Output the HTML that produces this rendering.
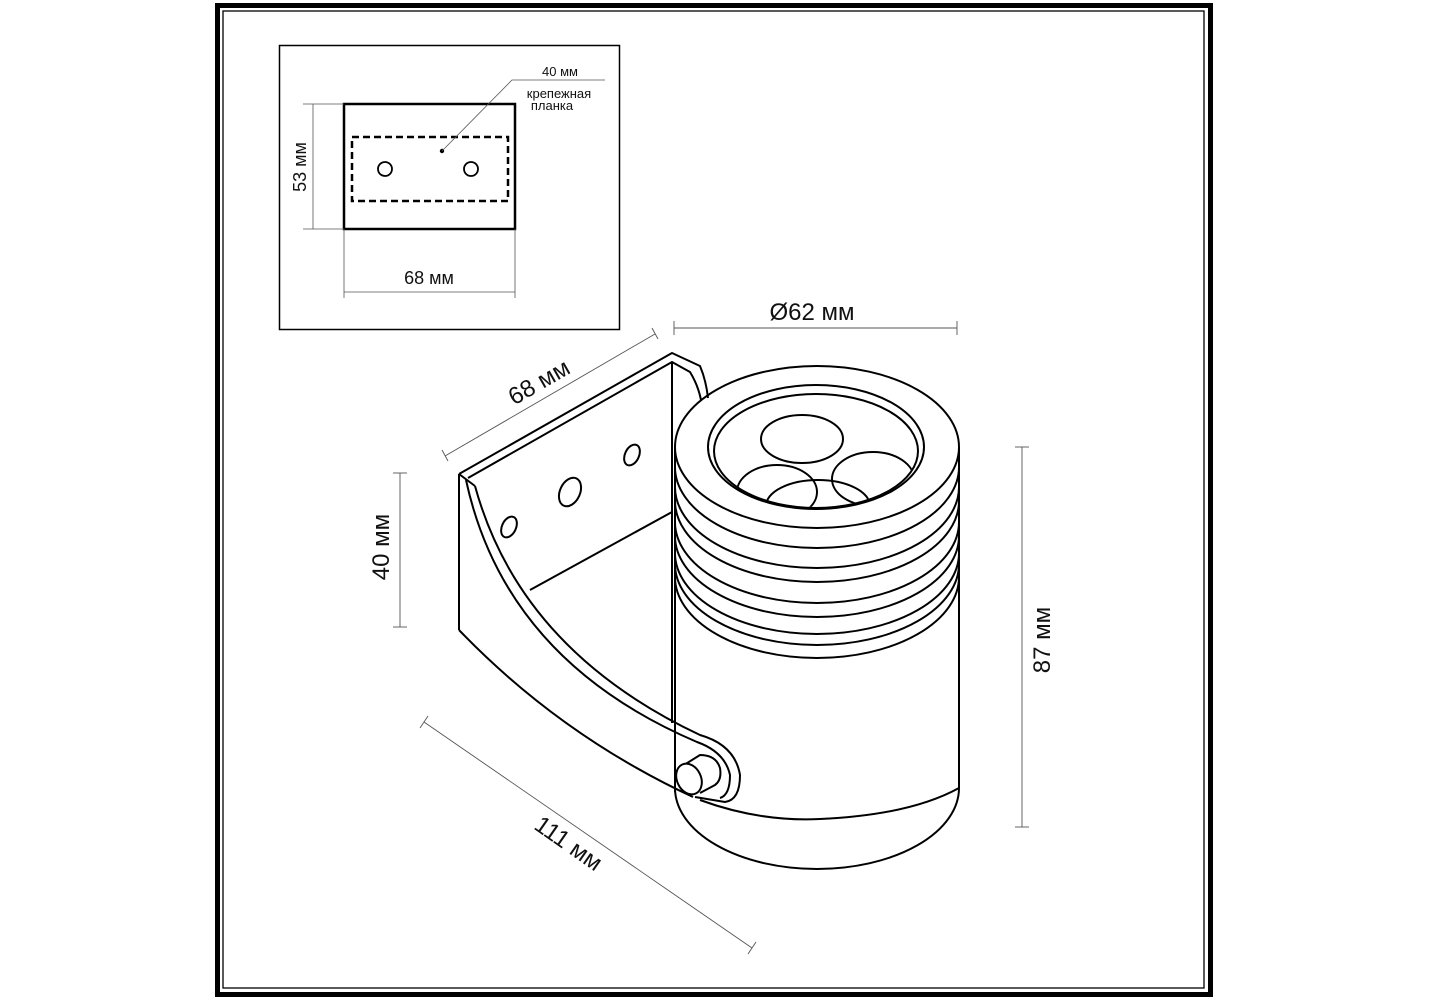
<!DOCTYPE html>
<html><head><meta charset="utf-8"><style>
html,body{margin:0;padding:0;background:#fff;}
svg{display:block;}
text{font-family:"Liberation Sans",sans-serif;fill:#111;}
</style></head><body>
<svg width="1429" height="1000" viewBox="0 0 1429 1000" xmlns="http://www.w3.org/2000/svg">
<rect width="1429" height="1000" fill="#fff"/>
<rect x="217.5" y="5.5" width="993" height="989" fill="none" stroke="#000" stroke-width="5"/>
<rect x="223" y="11" width="981" height="977" fill="none" stroke="#000" stroke-width="1.3"/>
<!-- inset -->
<rect x="279.5" y="45.5" width="340" height="284" fill="none" stroke="#000" stroke-width="1.5"/>
<rect x="344" y="104" width="171" height="125" fill="none" stroke="#000" stroke-width="2.5"/>
<rect x="352" y="137" width="156" height="64" fill="none" stroke="#000" stroke-width="2.5" stroke-dasharray="7,4"/>
<circle cx="385" cy="169" r="7" fill="none" stroke="#000" stroke-width="1.8"/>
<circle cx="471" cy="169" r="7" fill="none" stroke="#000" stroke-width="1.8"/>
<circle cx="442" cy="151" r="2.2" fill="#000"/>
<polyline points="442,151 512,80 605,80" fill="none" stroke="#555" stroke-width="0.8"/>
<text x="560" y="76" font-size="13" text-anchor="middle">40 мм</text>
<text x="559" y="98" font-size="13" text-anchor="middle">крепежная</text>
<text x="552" y="110" font-size="13" text-anchor="middle">планка</text>
<g stroke="#555" stroke-width="0.8" fill="none">
<line x1="313" y1="104" x2="313" y2="229"/>
<line x1="303" y1="104" x2="344" y2="104"/>
<line x1="303" y1="229" x2="344" y2="229"/>
<line x1="344" y1="229" x2="344" y2="298"/>
<line x1="515" y1="229" x2="515" y2="298"/>
<line x1="344" y1="292" x2="515" y2="292"/>
</g>
<text font-size="18" text-anchor="middle" transform="translate(306,167) rotate(-90)">53 мм</text>
<text x="429" y="284" font-size="18" text-anchor="middle">68 мм</text>

<g stroke="#555" stroke-width="0.9" fill="none">
<line x1="445" y1="456" x2="655" y2="334"/>
<line x1="442" y1="450" x2="448" y2="461"/>
<line x1="652" y1="328" x2="658" y2="339"/>
<line x1="674" y1="328" x2="957" y2="328"/>
<line x1="674" y1="321" x2="674" y2="335"/>
<line x1="957" y1="321" x2="957" y2="335"/>
<line x1="400" y1="473" x2="400" y2="627"/>
<line x1="393" y1="473" x2="407" y2="473"/>
<line x1="393" y1="627" x2="407" y2="627"/>
<line x1="1022" y1="447" x2="1022" y2="827"/>
<line x1="1015" y1="447" x2="1029" y2="447"/>
<line x1="1015" y1="827" x2="1029" y2="827"/>
<line x1="424" y1="722" x2="752" y2="948"/>
<line x1="420" y1="728" x2="428" y2="716"/>
<line x1="748" y1="954" x2="756" y2="942"/>
</g>
<text font-size="24" text-anchor="middle" transform="translate(543,389) rotate(-30)">68 мм</text>
<text x="812" y="320" font-size="24" text-anchor="middle">Ø62 мм</text>
<text font-size="24" text-anchor="middle" transform="translate(389,547) rotate(-90)">40 мм</text>
<text font-size="24" text-anchor="middle" transform="translate(1050,640) rotate(-90)">87 мм</text>
<text font-size="24" text-anchor="middle" transform="translate(564,850) rotate(35)">111 мм</text>

<!-- cylinder -->
<g stroke="#000" stroke-width="2" fill="none">
<line x1="675" y1="447" x2="675" y2="792"/>
<line x1="959" y1="447" x2="959" y2="788"/>
<path d="M675,788 A142,81 0 0 0 959,788"/>
<path d="M700,800 Q760,822 820,819 Q910,815 959,788"/>
<path d="M675,467 A142,81 0 0 0 959,467"/>
<path d="M675,487 A142,81 0 0 0 959,487"/>
<path d="M675,501 A142,81 0 0 0 959,501"/>
<path d="M675,522 A142,81 0 0 0 959,522"/>
<path d="M675,536 A142,81 0 0 0 959,536"/>
<path d="M675,553 A142,81 0 0 0 959,553"/>
<path d="M675,564 A142,81 0 0 0 959,564"/>
<path d="M675,577 A142,81 0 0 0 959,577"/>
<ellipse cx="817" cy="447" rx="142" ry="81" fill="#fff"/>
<ellipse cx="816" cy="447" rx="108" ry="62"/>
<ellipse cx="816" cy="451" rx="102" ry="57"/>
<clipPath id="cl"><ellipse cx="816" cy="451" rx="101" ry="56"/></clipPath>
<g clip-path="url(#cl)">
<ellipse cx="802" cy="439" rx="41" ry="24"/>
<ellipse cx="873" cy="479" rx="41" ry="27"/>
<ellipse cx="777" cy="492" rx="40" ry="27"/>
<ellipse cx="818" cy="506" rx="52" ry="26"/>
</g>
</g>

<!-- bracket -->
<g stroke="#000" stroke-width="2" fill="none" stroke-linejoin="round">
<path d="M459,474 L672,353 L700,366 Q706,380 708,398"/>
<path d="M468,478 L672,362 L690,372 Q698,385 701,400"/>
<path d="M459,474 L475,486"/>
<line x1="672" y1="362" x2="672" y2="723"/>
<path d="M459,474 L459,630"/>
<path d="M459,630 Q560,735 693,797"/>
<path d="M475,486 Q520,650 700,735 Q735,745 740,775 Q740,800 725,802 L695,797"/>
<path d="M466,480 Q505,660 697,742 Q725,752 730,775 Q730,795 720,798"/>
<line x1="530" y1="590" x2="672" y2="512"/>
<ellipse cx="632" cy="455" rx="7" ry="11" transform="rotate(25 632 455)"/>
<ellipse cx="570" cy="492" rx="10" ry="15" transform="rotate(25 570 492)"/>
<ellipse cx="509" cy="527" rx="7" ry="11" transform="rotate(25 509 527)"/>
<path d="M684,765 L700,755 Q716,755 720,768 Q722,780 715,785 L700,793" fill="#fff"/>
<ellipse cx="689" cy="779" rx="12" ry="16" transform="rotate(-25 689 779)" fill="#fff"/>
</g>
</svg>
</body></html>
